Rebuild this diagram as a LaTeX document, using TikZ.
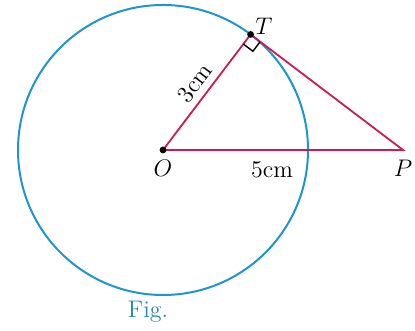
\documentclass[tikz,border=0pt]{standalone}
\usepackage{amsmath,amssymb}
\usepackage{tikz}
\usetikzlibrary{calc,positioning}
\usepackage{xcolor}
\definecolor{circleblue}{RGB}{30,150,205}
\definecolor{linered}{RGB}{205,25,85}
\definecolor{figblue}{RGB}{40,135,180}

\begin{document}
\begin{tikzpicture}[x=0.5pt,y=0.5pt,
    dot/.style={circle,fill=black,inner sep=0pt,minimum size=3.4pt},
    lbl/.style={font=\large}]
    \useasboundingbox (0,0) rectangle (415,330);
    % circle and points
    \coordinate (O) at (163,180);
    \coordinate (P) at (403,180);
    \coordinate (T) at ($(O)+({acos(145/240)}:145)$);
    \draw[circleblue,line width=1pt] (O) circle[radius=145];
    % triangle O T P
    \draw[linered,line width=0.9pt] (O) -- (T) -- (P) -- cycle;
    % right angle at T
    \coordinate (TA) at ($(T)!6pt!(O)$);
    \coordinate (TB) at ($(T)!6pt!(P)$);
    \draw[black,line width=0.7pt] (TA) -- ($(TA)+(TB)-(T)$) -- (TB);
    \node[dot] (Odot) at (O) {};
    \node[dot] (Tdot) at (T) {};
    \node[lbl] (Olbl) at (163,162) {$O$};
    \node[lbl] (Tlbl) at (264,304) {$T$};
    \node[lbl] (Plbl) at (403,162) {$P$};
    \node[lbl,rotate=53,above=0pt] (OTlbl) at ($(O)!0.5!(T)$) {3cm};
    \node[lbl] (OPlbl) at (272,160) {5cm};
    \node[font=\large,text=figblue] (fig) at (148,18) {Fig.};
  \end{tikzpicture}
\end{document}
